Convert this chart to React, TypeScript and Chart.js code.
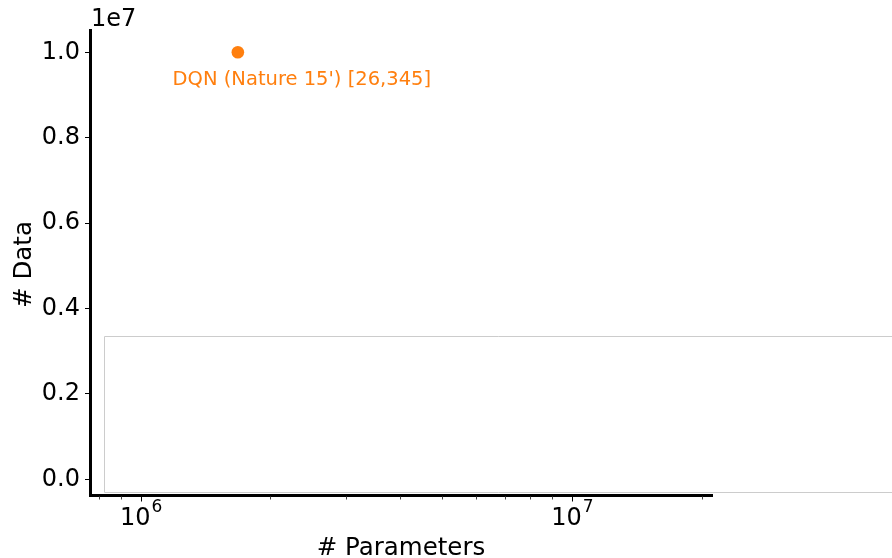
import React, { useEffect, useRef } from "react";
import { Chart, registerables } from "chart.js";

Chart.register(...registerables);

// Model size vs. training data
const modelNames = ["DQN (Nature 15') [26,345]"];
const paramCounts = [1.68e6];
const dataCounts = [1.0e7];

const yTickValues = [0, 0.2e7, 0.4e7, 0.6e7, 0.8e7, 1.0e7];
const xMajorTicks = [1e6, 1e7];
const xMinorTicks = [8e5, 9e5, 2e6, 3e6, 4e6, 5e6, 6e6, 7e6, 8e6, 9e6, 2e7];
const xExponents = ["6", "7"];

const ORANGE = "#ff7f0e";
const FONT = "'DejaVu Sans', sans-serif";

const decorPlugin = {
  id: "decor",
  beforeDatasetsDraw(chart: any) {
    const { ctx, chartArea } = chart;
    // light frame of the lower panel
    ctx.save();
    ctx.strokeStyle = "#cccccc";
    ctx.lineWidth = 1;
    ctx.beginPath();
    ctx.moveTo(chart.width + 2, 336.5);
    ctx.lineTo(chartArea.left + 14.5, 336.5);
    ctx.lineTo(chartArea.left + 14.5, chartArea.bottom - 2.5);
    ctx.lineTo(chart.width + 2, chartArea.bottom - 2.5);
    ctx.stroke();
    ctx.restore();
  },
  afterDraw(chart: any) {
    const { ctx, chartArea } = chart;
    const xs = chart.scales.x;
    ctx.save();
    // x ticks (log scale)
    ctx.strokeStyle = "#000";
    ctx.lineWidth = 1;
    const base = chartArea.bottom + 1.5;
    xMajorTicks.forEach((v) => {
      const px = Math.round(xs.getPixelForValue(v)) + 0.5;
      ctx.beginPath();
      ctx.moveTo(px, base);
      ctx.lineTo(px, base + 5);
      ctx.stroke();
    });
    ctx.strokeStyle = "#444";
    xMinorTicks.forEach((v) => {
      const px = Math.round(xs.getPixelForValue(v)) + 0.5;
      ctx.beginPath();
      ctx.moveTo(px, base);
      ctx.lineTo(px, base + 3);
      ctx.stroke();
    });
    // x tick labels: 10^n
    ctx.fillStyle = "#000";
    ctx.textBaseline = "alphabetic";
    xMajorTicks.forEach((v, i) => {
      const px = xs.getPixelForValue(v);
      ctx.font = `24px ${FONT}`;
      const w1 = ctx.measureText("10").width;
      ctx.font = `17px ${FONT}`;
      const w2 = ctx.measureText(xExponents[i]).width;
      const start = px - (w1 + w2) / 2;
      ctx.font = `24px ${FONT}`;
      ctx.textAlign = "left";
      ctx.fillText("10", start, 525);
      ctx.font = `17px ${FONT}`;
      ctx.fillText(xExponents[i], start + w1 + 1, 512);
    });
    // axis titles
    ctx.font = `24.5px ${FONT}`;
    ctx.textAlign = "center";
    ctx.fillText("# Parameters", (chartArea.left + chartArea.right) / 2, 555);
    ctx.save();
    ctx.translate(31, (chartArea.top + chartArea.bottom) / 2 + 2);
    ctx.rotate(-Math.PI / 2);
    ctx.fillText("# Data", 0, 0);
    ctx.restore();
    // offset text
    ctx.font = `24px ${FONT}`;
    ctx.textAlign = "left";
    ctx.fillText("1e7", chartArea.left + 1, 26);
    ctx.restore();
  },
  afterDatasetsDraw(chart: any) {
    const { ctx } = chart;
    const meta = chart.getDatasetMeta(0);
    ctx.save();
    ctx.fillStyle = ORANGE;
    ctx.font = `19.5px ${FONT}`;
    ctx.textAlign = "center";
    ctx.textBaseline = "middle";
    meta.data.forEach((pt: any, i: number) => {
      ctx.fillText(modelNames[i], pt.x + 64, pt.y + 28);
    });
    ctx.restore();
  },
};

export default function App() {
  const ref = useRef<HTMLCanvasElement | null>(null);
  useEffect(() => {
    if (!ref.current) return;
    const chart = new Chart(ref.current, {
      type: "scatter",
      data: {
        datasets: [
          {
            label: modelNames[0],
            data: paramCounts.map((x, i) => ({ x, y: dataCounts[i] })),
            backgroundColor: ORANGE,
            borderColor: ORANGE,
            pointRadius: 6.3,
            pointHoverRadius: 6.3,
            borderWidth: 0,
          },
        ],
      },
      options: {
        animation: false,
        responsive: false,
        maintainAspectRatio: false,
        layout: { padding: { top: 30, right: 180, left: 0, bottom: 0 } },
        plugins: { legend: { display: false }, tooltip: { enabled: false } },
        scales: {
          x: {
            type: "logarithmic",
            min: 7.63e5,
            max: 2.112e7,
            grid: { display: false, drawTicks: false },
            border: { display: true, color: "#000", width: 3 },
            ticks: { display: false },
            afterFit: (s: any) => {
              s.height = 63;
            },
          },
          y: {
            type: "linear",
            min: -0.0368e7,
            max: 1.0522e7,
            afterBuildTicks: (s: any) => {
              s.ticks = yTickValues.map((value) => ({ value }));
            },
            afterFit: (s: any) => {
              s.width = 90;
            },
            grid: {
              drawOnChartArea: false,
              drawTicks: true,
              tickLength: 5,
              tickColor: "#000",
              tickWidth: 1,
            },
            border: { display: true, color: "#000", width: 3 },
            ticks: {
              color: "#000",
              padding: 5,
              font: { family: FONT, size: 24 },
              callback: (v: any) => (Number(v) / 1e7).toFixed(1),
            },
          },
        },
      },
      plugins: [decorPlugin],
    } as any);
    return () => chart.destroy();
  }, []);
  return (
    <div style={{ position: "absolute", left: 0, top: 0, width: 892, height: 558, background: "#fff" }}>
      <canvas ref={ref} width={892} height={558} style={{ width: 892, height: 558 }} />
    </div>
  );
}
